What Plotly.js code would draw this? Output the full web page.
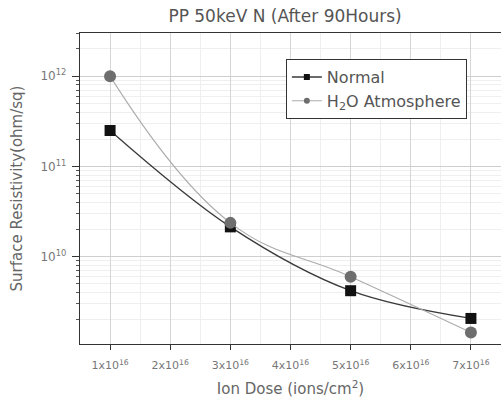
<!DOCTYPE html>
<html>
<head>
<meta charset="utf-8">
<script src="https://cdn.plot.ly/plotly-3.0.1.min.js"></script>
<style>html,body{margin:0;padding:0;background:#fff;}#chart{width:501px;height:400px;}</style>
</head>
<body>
<div id="chart"></div>
<script>
const doses = [1e16, 3e16, 5e16, 7e16];
const normal = [2.5e11, 2.14e10, 4.2e9, 2.07e9];
const h2o = [1.0e12, 2.37e10, 6.0e9, 1.45e9];
const seriesNames = ['Normal', 'H<sub>2</sub>O Atmosphere'];
const xTickVals = [1e16, 2e16, 3e16, 4e16, 5e16, 6e16, 7e16];
const xTickText = ['1x10<sup>16</sup>','2x10<sup>16</sup>','3x10<sup>16</sup>','4x10<sup>16</sup>','5x10<sup>16</sup>','6x10<sup>16</sup>','7x10<sup>16</sup>'];
const yTickVals = [1e10, 1e11, 1e12];
const yTickText = ['10<sup>10</sup>','10<sup>11</sup>','10<sup>12</sup>'];

const yMinor = [];
for (let e = 9; e <= 12; e++) for (let m = 2; m <= 9; m++) yMinor.push(m * Math.pow(10, e));
const xMinor = [0.5e16];
for (let i = 0; i < xTickVals.length; i++) xMinor.push(xTickVals[i] + 0.5e16);

const font = 'DejaVu Sans, Verdana, sans-serif';
const normalLine = {color: '#3a3a3a', width: 1.3, shape: 'spline', smoothing: 1};
const h2oLine = {color: '#ababab', width: 1.1, shape: 'spline', smoothing: 1.2};
const traces = [
  {x: doses, y: normal, name: seriesNames[0], mode: 'lines+markers', showlegend: false,
   line: normalLine, marker: {symbol: 'square', size: 11, color: '#111'}},
  {x: doses, y: h2o, name: seriesNames[1], mode: 'lines+markers', showlegend: false,
   line: h2oLine, marker: {symbol: 'circle', size: 12, color: '#6e6e6e'}},
  {x: [null], y: [null], name: seriesNames[0], mode: 'lines+markers',
   line: {color: '#3a3a3a', width: 1.3}, marker: {symbol: 'square', size: 6, color: '#111'}},
  {x: [null], y: [null], name: seriesNames[1], mode: 'lines+markers',
   line: {color: '#ababab', width: 1.1}, marker: {symbol: 'circle', size: 6, color: '#6e6e6e'}}
];
const layout = {
  width: 501, height: 400,
  margin: {l: 80, r: 0, t: 33, b: 56},
  paper_bgcolor: '#fff', plot_bgcolor: '#fff',
  font: {family: font, color: '#666'},
  title: {text: 'PP 50keV N (After 90Hours)', font: {size: 17, color: '#555', family: font},
          xref: 'container', x: 0.569, xanchor: 'center', yref: 'container', y: 0.96, yanchor: 'middle'},
  xaxis: {
    range: [0.5e16, 7.5e16], tickmode: 'array', tickvals: xTickVals, ticktext: xTickText,
    tickfont: {size: 11, color: '#777'}, ticks: 'outside', ticklen: 5, tickcolor: '#333',
    ticklabelstandoff: 6,
    showline: true, linecolor: '#333', linewidth: 1.2, mirror: true,
    showgrid: true, gridcolor: '#d6d6d6', gridwidth: 1, zeroline: false,
    minor: {tickmode: 'array', tickvals: xMinor, showgrid: true, gridcolor: '#efefef', ticks: ''},
    title: {text: 'Ion Dose (ions/cm<sup>2</sup>)', font: {size: 15, color: '#666'}, standoff: 12}
  },
  yaxis: {
    type: 'log', range: [9.033, 12.478], tickmode: 'array', tickvals: yTickVals, ticktext: yTickText,
    tickfont: {size: 12, color: '#777'}, ticks: 'outside', ticklen: 7, tickcolor: '#333',
    ticklabelstandoff: 3,
    showline: true, linecolor: '#333', linewidth: 1.2,
    showgrid: true, gridcolor: '#cfcfcf', gridwidth: 1, zeroline: false,
    minor: {tickmode: 'array', tickvals: yMinor, ticks: 'outside', ticklen: 3, tickcolor: '#555',
            showgrid: true, gridcolor: '#efefef'},
    title: {text: 'Surface Resistivity(ohm/sq)', font: {size: 15, color: '#666'}, standoff: 14}
  },
  showlegend: true,
  legend: {x: 0.489, y: 0.916, xanchor: 'left', yanchor: 'top', bgcolor: '#fff',
           bordercolor: '#333', borderwidth: 1, font: {size: 16, color: '#555'},
           tracegroupgap: 0, itemwidth: 30},
  hovermode: false
};
Plotly.newPlot('chart', traces, layout, {displayModeBar: false, staticPlot: true});
</script>
</body>
</html>
